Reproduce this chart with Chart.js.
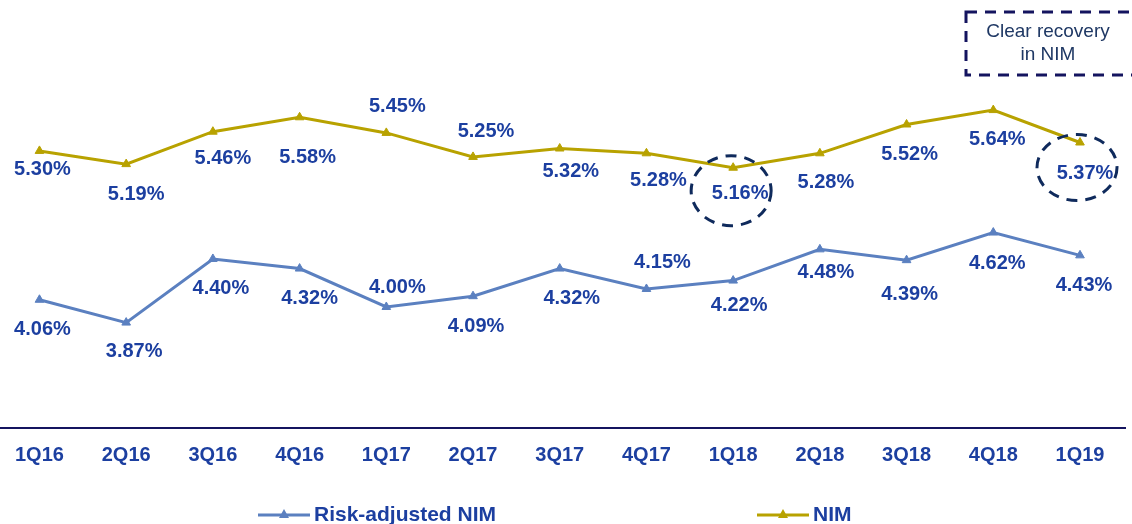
<!DOCTYPE html>
<html>
<head>
<meta charset="utf-8">
<script src="https://cdn.jsdelivr.net/npm/chart.js@4/dist/chart.umd.min.js"></script>
<style>
  html, body { margin: 0; padding: 0; background: #ffffff; }
  #wrap { position: relative; width: 1132px; height: 524px; overflow: hidden; }
</style>
</head>
<body>
<div id="wrap"><canvas id="nimChart" width="1132" height="524"></canvas></div>
<script>
// Quarters on the x axis
const quarters = ['1Q16', '2Q16', '3Q16', '4Q16', '1Q17', '2Q17', '3Q17', '4Q17', '1Q18', '2Q18', '3Q18', '4Q18', '1Q19'];

// Series values (%)
const nimValues = [5.30, 5.19, 5.46, 5.58, 5.45, 5.25, 5.32, 5.28, 5.16, 5.28, 5.52, 5.64, 5.37];
const riskAdjNimValues = [4.06, 3.87, 4.40, 4.32, 4.00, 4.09, 4.32, 4.15, 4.22, 4.48, 4.39, 4.62, 4.43];

// Data label placement (dx, dy from the point, px)
const nimLabelOffsets = [[3, 19], [10, 30], [10, 27], [8, 40], [11, -26], [13, -25], [11, 23], [12, 27], [7, 26], [6, 29], [3, 30], [4, 29], [5, 31]];
const riskLabelOffsets = [[3, 30], [8, 29], [8, 30], [10, 30], [11, -19], [3, 30], [12, 30], [16, -26], [6, 25], [6, 23], [3, 34], [4, 31], [4, 30]];

const NIM_COLOR = '#b8a200';
const RISK_COLOR = '#5b80c0';
const LABEL_COLOR = '#1c3fa0';
const NAVY = '#14145f';
const FONT = "'Liberation Sans', Arial, sans-serif";

// Draws the value labels, dashed highlights, callout box and legend
const decorations = {
  id: 'decorations',
  afterDatasetsDraw(chart) {
    const ctx = chart.ctx;
    const xs = chart.scales.x;
    const ys = chart.scales.y;

    ctx.save();
    ctx.font = `bold 20px ${FONT}`;
    ctx.fillStyle = LABEL_COLOR;
    ctx.textAlign = 'center';
    ctx.textBaseline = 'middle';
    nimValues.forEach((v, i) => {
      const [dx, dy] = nimLabelOffsets[i];
      ctx.fillText(v.toFixed(2) + '%', xs.getPixelForValue(i) + dx, ys.getPixelForValue(v) + dy);
    });
    riskAdjNimValues.forEach((v, i) => {
      const [dx, dy] = riskLabelOffsets[i];
      ctx.fillText(v.toFixed(2) + '%', xs.getPixelForValue(i) + dx, ys.getPixelForValue(v) + dy);
    });

    // dashed ellipses round 1Q18 and 1Q19 NIM
    ctx.strokeStyle = '#0f2a5c';
    ctx.lineWidth = 3;
    ctx.setLineDash([11, 8]);
    [[8, -2, 23, 40, 35], [12, -3, 25, 40, 33]].forEach(([i, dx, dy, rx, ry]) => {
      const cx = xs.getPixelForValue(i) + dx;
      const cy = ys.getPixelForValue(nimValues[i]) + dy;
      ctx.beginPath();
      ctx.ellipse(cx, cy, rx, ry, 0, 0, Math.PI * 2);
      ctx.stroke();
    });

    // callout box
    ctx.strokeStyle = NAVY;
    ctx.setLineDash([11, 8]);
    ctx.strokeRect(966, 12, 180, 63);
    ctx.setLineDash([]);
    ctx.font = `19px ${FONT}`;
    ctx.fillStyle = '#1f3864';
    ctx.fillText('Clear recovery', 1048, 32);
    ctx.fillText('in NIM', 1048, 55);

    // legend
    const legend = [
      { label: 'Risk-adjusted NIM', color: RISK_COLOR, x: 258 },
      { label: 'NIM', color: NIM_COLOR, x: 757 }
    ];
    const ly = 515;
    legend.forEach(item => {
      ctx.strokeStyle = item.color;
      ctx.fillStyle = item.color;
      ctx.lineWidth = 3;
      ctx.beginPath();
      ctx.moveTo(item.x, ly);
      ctx.lineTo(item.x + 52, ly);
      ctx.stroke();
      const mx = item.x + 26;
      ctx.beginPath();
      ctx.moveTo(mx, ly - 6);
      ctx.lineTo(mx + 5, ly + 3);
      ctx.lineTo(mx - 5, ly + 3);
      ctx.closePath();
      ctx.fill();
      ctx.font = `bold 21px ${FONT}`;
      ctx.fillStyle = LABEL_COLOR;
      ctx.textAlign = 'left';
      ctx.fillText(item.label, item.x + 56, ly);
    });
    ctx.restore();
  }
};

const ctx = document.getElementById('nimChart').getContext('2d');
new Chart(ctx, {
  type: 'line',
  data: {
    datasets: [
      {
        label: 'NIM',
        data: nimValues.map((v, i) => ({ x: i, y: v })),
        borderColor: NIM_COLOR,
        backgroundColor: NIM_COLOR,
        borderWidth: 3,
        pointStyle: 'triangle',
        pointRadius: 5,
        pointBorderWidth: 1,
        tension: 0
      },
      {
        label: 'Risk-adjusted NIM',
        data: riskAdjNimValues.map((v, i) => ({ x: i, y: v })),
        borderColor: RISK_COLOR,
        backgroundColor: RISK_COLOR,
        borderWidth: 3,
        pointStyle: 'triangle',
        pointRadius: 5,
        pointBorderWidth: 1,
        tension: 0
      }
    ]
  },
  options: {
    responsive: false,
    animation: false,
    layout: { autoPadding: false, padding: { left: 0, right: 7, top: 0, bottom: 0 } },
    plugins: {
      legend: { display: false },
      tooltip: { enabled: false }
    },
    scales: {
      x: {
        type: 'linear',
        min: -0.4496,
        max: 12.519,
        afterBuildTicks(scale) {
          scale.ticks = quarters.map((q, i) => ({ value: i }));
        },
        afterFit(scale) {
          scale.height = 96;
        },
        grid: { display: false, drawTicks: false },
        border: { display: true, color: NAVY, width: 2 },
        ticks: {
          padding: 15,
          maxRotation: 0,
          autoSkip: false,
          color: LABEL_COLOR,
          font: { family: FONT, size: 20, weight: 'bold' },
          callback: (value) => quarters[value] ?? ''
        }
      },
      y: {
        display: false,
        min: 2.992,
        max: 6.557
      }
    }
  },
  plugins: [decorations]
});
</script>
</body>
</html>
